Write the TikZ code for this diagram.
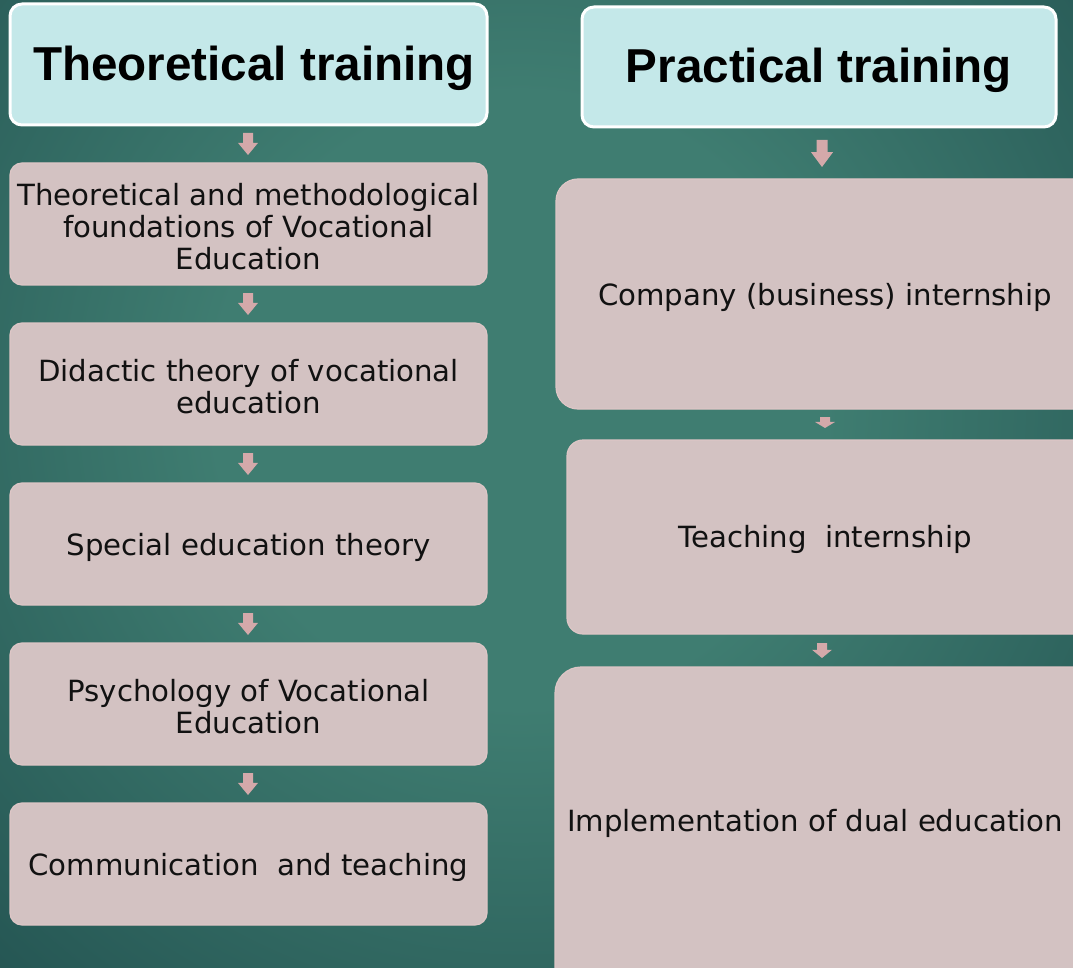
\documentclass[tikz,border=0pt]{standalone}
\usepackage{fontspec}
\setmainfont{DejaVu Sans}
\newfontfamily\titlefont{Liberation Sans}
\usetikzlibrary{arrows.meta}
\definecolor{bgmid}{HTML}{3F7D71}
\definecolor{bgout}{HTML}{21504F}
\definecolor{titlefill}{HTML}{C4E8E9}
\definecolor{boxfill}{HTML}{D3C2C2}
\definecolor{boxline}{HTML}{DDC6C6}
\definecolor{arrowfill}{HTML}{D4A9AA}
\definecolor{txt}{HTML}{111111}
\pgfdeclareradialshading{bgshade}{\pgfpoint{0bp}{0bp}}{color(0bp)=(bgmid); color(9bp)=(bgmid); color(25bp)=(bgout); color(50bp)=(bgout)}
\tikzset{
  titlebox/.style={draw=white, line width=3pt, fill=titlefill, rounded corners=12pt,
    text=black, font=\titlefont\bfseries\fontsize{47.6}{52}\selectfont},
  stepbox/.style={draw=boxline, line width=1.2pt, fill=boxfill, text=txt,
    align=center, font=\fontsize{29.2}{32}\selectfont},
  downarrow/.style={fill=arrowfill, draw=none}
}
\newcommand{\downarr}[4]{% x, ytop, yend, width
  \fill[downarrow] ({#1-#4*0.25},{#2}) -- ({#1+#4*0.25},{#2}) -- ({#1+#4*0.25},{#2+(#3-#2)*0.45})
   -- ({#1+#4*0.5},{#2+(#3-#2)*0.45}) -- ({#1},{#3}) -- ({#1-#4*0.5},{#2+(#3-#2)*0.45})
   -- ({#1-#4*0.25},{#2+(#3-#2)*0.45}) -- cycle;}
\begin{document}
\begin{tikzpicture}[x=1pt,y=-1pt]
\useasboundingbox (0,0) rectangle (1073,968);
\clip (0,0) rectangle (1073,968);
\fill[bgout] (0,0) rectangle (1073,968);
\shade[shading=bgshade] (-330,-450) rectangle (1370,1250);
% left column
\draw[titlebox] (10,4) rectangle (487,125);
\node[titlebox, draw=none, fill=none, anchor=center] (tt) at (254,68) {Theoretical training};
\draw[stepbox, rounded corners=12pt] (10,163) rectangle (487,285);
\node[stepbox, draw=none, fill=none] (l1) at (248.5,227) {Theoretical and methodological\\foundations of Vocational\\Education};
\draw[stepbox, rounded corners=12pt] (10,323) rectangle (487,445);
\node[stepbox, draw=none, fill=none] (l2) at (248.5,387) {Didactic theory of vocational\\education};
\draw[stepbox, rounded corners=12pt] (10,483) rectangle (487,605);
\node[stepbox, draw=none, fill=none] (l3) at (248.5,547) {Special education theory};
\draw[stepbox, rounded corners=12pt] (10,643) rectangle (487,765);
\node[stepbox, draw=none, fill=none] (l4) at (248.5,707) {Psychology of Vocational\\Education};
\draw[stepbox, rounded corners=12pt] (10,803) rectangle (487,925);
\node[stepbox, draw=none, fill=none] (l5) at (248.5,867) {Communication~~and teaching};
\downarr{248}{133}{155}{20}
\downarr{248}{293}{315}{20}
\downarr{248}{453}{475}{20}
\downarr{248}{613}{635}{20}
\downarr{248}{773}{795}{20}
% right column
\draw[titlebox] (582,7) rectangle (1056,127);
\node[titlebox, draw=none, fill=none] (pt) at (819,70) {Practical training};
\draw[stepbox, rounded corners=22pt] (556,179) rectangle (1100,409);
\node[stepbox, draw=none, fill=none] (r1) at (825,297) {Company (business) internship};
\draw[stepbox, rounded corners=16pt] (567,440) rectangle (1100,634);
\node[stepbox, draw=none, fill=none] (r2) at (825,539) {Teaching~~internship};
\draw[stepbox, rounded corners=26pt] (555,667) rectangle (1100,1000);
\node[stepbox, draw=none, fill=none] (r3) at (815,823) {Implementation of dual education};
\downarr{822}{140}{167}{22}
\downarr{825}{417}{428}{20}
\downarr{822}{643}{658}{20}
\end{tikzpicture}
\end{document}
